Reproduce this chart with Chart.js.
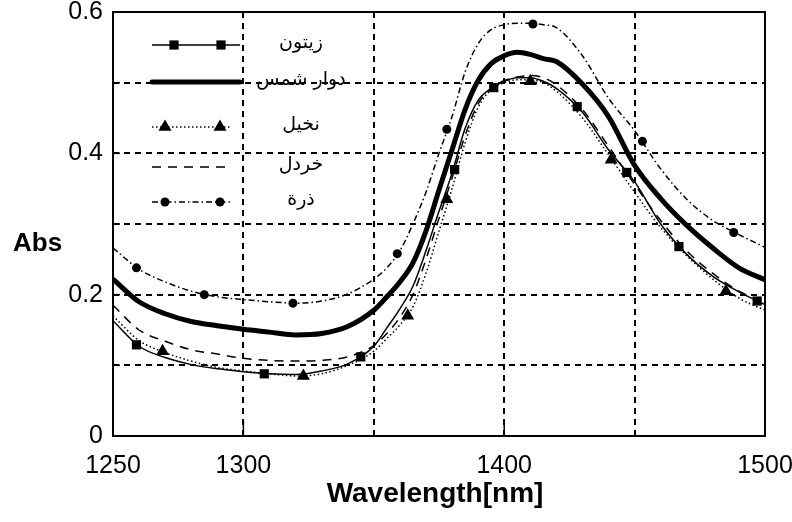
<!DOCTYPE html>
<html>
<head>
<meta charset="utf-8">
<script src="https://cdn.jsdelivr.net/npm/chart.js@4/dist/chart.umd.min.js"></script>
<style>
  html, body { margin: 0; padding: 0; background: #fff; }
  canvas { display: block; }
</style>
</head>
<body>
<canvas id="absChart" width="792" height="522"></canvas>
<script>
// wavelengths (nm) shared by all curves
const wavelengths = [1250, 1260, 1270, 1280, 1290, 1300, 1310, 1320, 1330, 1340, 1350,
  1355, 1360, 1365, 1370, 1375, 1380, 1385, 1390, 1395, 1400, 1405, 1410, 1415, 1420,
  1430, 1440, 1450, 1460, 1470, 1480, 1490, 1500];

const seriesNames = ['زيتون', 'دوار شمس', 'نخيل', 'خردل', 'ذرة'];

const olive = [0.163, 0.127, 0.111, 0.101, 0.095, 0.091, 0.088, 0.087, 0.092, 0.102, 0.127,
  0.153, 0.180, 0.212, 0.262, 0.318, 0.372, 0.435, 0.475, 0.492, 0.502, 0.507, 0.507, 0.502, 0.492,
  0.458, 0.405, 0.360, 0.300, 0.257, 0.226, 0.204, 0.186];
const sunflower = [0.222, 0.190, 0.173, 0.162, 0.156, 0.151, 0.147, 0.143, 0.145, 0.155, 0.178,
  0.197, 0.218, 0.245, 0.290, 0.348, 0.405, 0.462, 0.503, 0.527, 0.538, 0.543, 0.540, 0.534, 0.530,
  0.498, 0.452, 0.383, 0.336, 0.298, 0.266, 0.238, 0.221];
const palm = [0.170, 0.135, 0.118, 0.106, 0.097, 0.092, 0.088, 0.085, 0.088, 0.100, 0.120,
  0.138, 0.157, 0.183, 0.230, 0.290, 0.350, 0.415, 0.465, 0.490, 0.500, 0.504, 0.504, 0.500, 0.488,
  0.450, 0.398, 0.345, 0.295, 0.255, 0.222, 0.195, 0.178];
const mustard = [0.185, 0.150, 0.134, 0.122, 0.116, 0.110, 0.107, 0.106, 0.107, 0.112, 0.128,
  0.145, 0.168, 0.200, 0.250, 0.308, 0.365, 0.425, 0.470, 0.492, 0.503, 0.508, 0.510, 0.507, 0.497,
  0.462, 0.410, 0.356, 0.305, 0.262, 0.230, 0.205, 0.188];
const corn = [0.266, 0.236, 0.218, 0.205, 0.197, 0.193, 0.190, 0.188, 0.191, 0.201, 0.222,
  0.238, 0.262, 0.300, 0.345, 0.400, 0.452, 0.515, 0.555, 0.575, 0.582, 0.584, 0.584, 0.582, 0.578,
  0.538, 0.478, 0.432, 0.378, 0.335, 0.305, 0.285, 0.267];

// marker positions
const oliveMarkX = [1259, 1308, 1345, 1381, 1396, 1428, 1447, 1467, 1497];
const oliveMarkY = [0.129, 0.088, 0.112, 0.377, 0.493, 0.466, 0.373, 0.268, 0.191];
const palmMarkX = [1269, 1323, 1363, 1378, 1410, 1441, 1485];
const palmMarkY = [0.120, 0.085, 0.170, 0.335, 0.502, 0.391, 0.205];
const cornMarkX = [1259, 1285, 1319, 1359, 1378, 1411, 1453, 1488];
const cornMarkY = [0.238, 0.200, 0.188, 0.258, 0.434, 0.583, 0.417, 0.288];

const xTickLabels = [1250, 1300, 1400, 1500];
const yTickLabels = [0, 0.2, 0.4, 0.6];

const tickFont = { family: '"Liberation Sans", Arial, sans-serif', size: 25 };

function toPoints(xs, ys) {
  return xs.map((x, i) => ({ x: x, y: ys[i] }));
}

const lineStyles = [
  { width: 1.5, dash: [] },
  { width: 5, dash: [] },
  { width: 1.5, dash: [1.5, 2.5] },
  { width: 1.5, dash: [9, 7] },
  { width: 1.5, dash: [6, 3, 1.5, 3] }
];
const markerStyles = [
  { style: 'rect', radius: 6.5 },
  null,
  { style: 'triangle', radius: 7.5 },
  null,
  { style: 'circle', radius: 4.5 }
];

const curves = [olive, sunflower, palm, mustard, corn];
const markX = [oliveMarkX, null, palmMarkX, null, cornMarkX];
const markY = [oliveMarkY, null, palmMarkY, null, cornMarkY];

const datasets = [];
curves.forEach((c, i) => {
  datasets.push({
    label: seriesNames[i],
    data: toPoints(wavelengths, c),
    borderColor: '#000',
    borderWidth: lineStyles[i].width,
    borderDash: lineStyles[i].dash,
    pointRadius: 0,
    fill: false
  });
  if (markX[i]) {
    datasets.push({
      label: '',
      data: toPoints(markX[i], markY[i]),
      showLine: false,
      pointStyle: markerStyles[i].style,
      pointRadius: markerStyles[i].radius,
      pointBackgroundColor: '#000',
      pointBorderColor: '#000',
      pointBorderWidth: 0
    });
  }
});

// legend drawn inside the plot, lines on the left, Arabic names on the right
const legendPlugin = {
  id: 'insideLegend',
  afterDatasetsDraw(chart) {
    const ctx = chart.ctx;
    const rowsY = [45, 82, 127, 167, 202];
    ctx.save();
    seriesNames.forEach((name, i) => {
      const y = rowsY[i];
      const x0 = 152;
      const x1 = (i < 2) ? 240 : 232;
      ctx.strokeStyle = '#000';
      ctx.lineWidth = lineStyles[i].width;
      ctx.lineCap = i === 1 ? 'round' : 'butt';
      ctx.setLineDash(lineStyles[i].dash);
      ctx.beginPath();
      ctx.moveTo(x0, y);
      ctx.lineTo(x1, y);
      ctx.stroke();
      ctx.setLineDash([]);
      if (markerStyles[i]) {
        const mx = i === 0 ? [174, 221] : [165, 220];
        ctx.fillStyle = '#000';
        mx.forEach(px => {
          Chart.helpers.drawPoint(ctx, {
            pointStyle: markerStyles[i].style,
            radius: markerStyles[i].radius,
            rotation: 0,
            borderWidth: 0
          }, px, y);
        });
      }
      ctx.fillStyle = '#000';
      ctx.font = '19px "DejaVu Sans", sans-serif';
      ctx.textAlign = 'center';
      ctx.textBaseline = 'middle';
      ctx.fillText(name, 301, y - 2);
    });
    ctx.restore();
  }
};

// frame, inward ticks and axis titles
const framePlugin = {
  id: 'frame',
  afterDraw(chart) {
    const ctx = chart.ctx;
    const a = chart.chartArea;
    const xs = chart.scales.x;
    const ys = chart.scales.y;
    ctx.save();
    ctx.strokeStyle = '#000';
    ctx.lineWidth = 2;
    ctx.strokeRect(a.left, a.top, a.right - a.left, a.bottom - a.top);
    ctx.lineWidth = 1.5;
    xs.ticks.forEach(t => {
      if (!t.label) return;
      const px = xs.getPixelForValue(t.value);
      ctx.beginPath();
      ctx.moveTo(px, a.bottom);
      ctx.lineTo(px, a.bottom - 15);
      ctx.stroke();
    });
    ys.ticks.forEach(t => {
      const py = ys.getPixelForValue(t.value);
      ctx.beginPath();
      ctx.moveTo(a.left, py);
      ctx.lineTo(a.left + 7, py);
      ctx.stroke();
    });
    ctx.fillStyle = '#000';
    ctx.textBaseline = 'middle';
    ctx.font = 'bold 26px "Liberation Sans", Arial, sans-serif';
    ctx.textAlign = 'left';
    ctx.fillText('Abs', 13, 244);
    ctx.font = 'bold 28px "Liberation Sans", Arial, sans-serif';
    ctx.textAlign = 'center';
    ctx.fillText('Wavelength[nm]', (a.left + a.right) / 2 - 4, 494);
    ctx.restore();
  }
};

function edgeGrid(min, max) {
  return function(c) {
    const v = c.tick ? c.tick.value : null;
    return (v === min || v === max) ? 'rgba(0,0,0,0)' : '#000';
  };
}

new Chart(document.getElementById('absChart').getContext('2d'), {
  type: 'line',
  data: { datasets: datasets },
  options: {
    responsive: false,
    animation: false,
    layout: { padding: { top: 12, right: 27, left: 0, bottom: 0 } },
    plugins: { legend: { display: false }, tooltip: { enabled: false } },
    elements: { line: { cubicInterpolationMode: 'monotone' } },
    scales: {
      x: {
        type: 'linear',
        min: 1250,
        max: 1500,
        ticks: {
          stepSize: 50,
          autoSkip: false,
          maxRotation: 0,
          padding: 15,
          color: '#000',
          font: tickFont,
          callback: v => xTickLabels.includes(v) ? String(v) : ''
        },
        grid: { color: edgeGrid(1250, 1500), lineWidth: 2, drawTicks: false },
        border: { display: false, dash: [6, 5] },
        afterFit(s) { s.height = 86; s.paddingLeft = 0; s.paddingRight = 0; }
      },
      y: {
        min: 0,
        max: 0.6,
        ticks: {
          stepSize: 0.1,
          padding: 10,
          color: '#000',
          font: tickFont,
          callback: v => {
            const r = Math.round(v * 10) / 10;
            return yTickLabels.includes(r) ? String(r) : '';
          }
        },
        grid: { color: edgeGrid(0, 0.6), lineWidth: 2, drawTicks: false },
        border: { display: false, dash: [6, 5] },
        afterFit(s) { s.width = 113; s.paddingTop = 0; s.paddingBottom = 0; }
      }
    }
  },
  plugins: [legendPlugin, framePlugin]
});
</script>
</body>
</html>
